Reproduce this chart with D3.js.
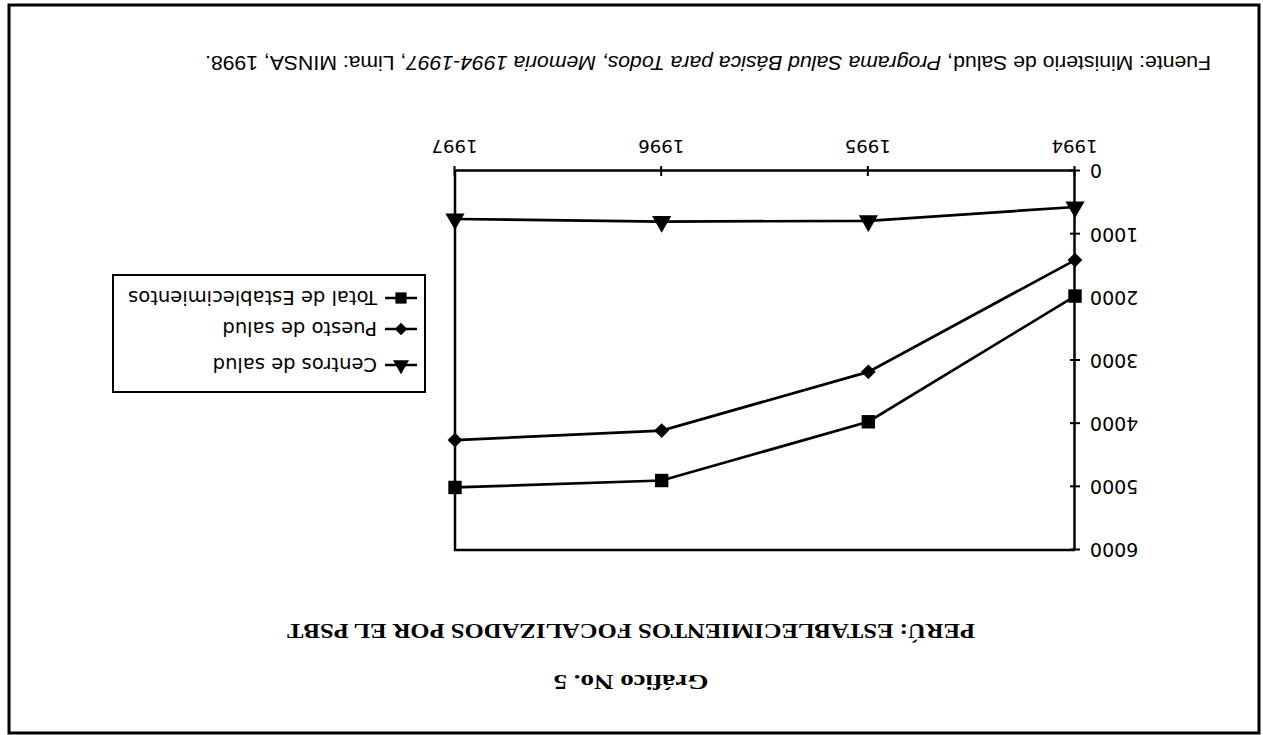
<!DOCTYPE html>
<html>
<head>
<meta charset="utf-8">
<script src="https://cdn.jsdelivr.net/npm/d3@7"></script>
<style>
  html, body { margin: 0; padding: 0; background: #fff; }
  svg { display: block; }
</style>
</head>
<body>
<svg id="chart" width="1263" height="735"></svg>
<script>
// ---- data ----
const years = ["1994", "1995", "1996", "1997"];
const centrosSalud = [570, 790, 800, 760];
const puestoSalud = [1410, 3180, 4110, 4260];
const totalEstablecimientos = [1980, 3970, 4900, 5010];
const yTicks = [0, 1000, 2000, 3000, 4000, 5000, 6000];
const seriesNames = ["Centros de salud", "Puesto de salud", "Total de Establecimientos"];
const seriesSymbols = ["triangle", "diamond", "square"];
const subtitleText = "Gráfico No. 5";
const titleText = "PERÚ: ESTABLECIMIENTOS FOCALIZADOS POR EL PSBT";

const W = 1263, H = 735;
const svg = d3.select("#chart");
// The reference page is scanned upside-down: draw upright, then rotate 180°.
const root = svg.append("g").attr("transform", `rotate(180 ${W/2} ${H/2})`);

// outer frame
root.append("rect").attr("x", 4).attr("y", 2).attr("width", 1250).attr("height", 728)
  .attr("fill", "none").attr("stroke", "#000").attr("stroke-width", 3);

// titles
root.append("text").attr("x", 632).attr("y", 60).attr("text-anchor", "middle")
  .attr("font-family", "Liberation Serif, serif").attr("font-weight", "bold")
  .attr("font-size", 20).attr("textLength", 155).attr("lengthAdjust", "spacingAndGlyphs")
  .text(subtitleText);
root.append("text").attr("x", 632).attr("y", 111).attr("text-anchor", "middle")
  .attr("font-family", "Liberation Serif, serif").attr("font-weight", "bold")
  .attr("font-size", 20).attr("textLength", 688).attr("lengthAdjust", "spacingAndGlyphs")
  .text(titleText);

// scales
const x = d3.scalePoint().domain(years).range([188, 808]);
const y = d3.scaleLinear().domain([0, 6000]).range([564, 185]);

const plot = root.append("g");
// plot frame (top and right)
plot.append("path")
  .attr("d", `M${x.range()[0]},${y(6000)}H${x.range()[1]}V${y(0)}`)
  .attr("fill", "none").attr("stroke", "#000").attr("stroke-width", 2.5);

// y axis
const yAxis = plot.append("g").attr("transform", `translate(${x.range()[0]},0)`)
  .call(d3.axisLeft(y).tickValues(yTicks).tickFormat(d3.format("d")).tickSize(5).tickSizeOuter(0).tickPadding(10));
yAxis.select(".domain").attr("stroke-width", 2.5);
yAxis.selectAll(".tick line").attr("x1", 5).attr("stroke-width", 2);
yAxis.selectAll(".tick text").attr("font-family", "DejaVu Sans, sans-serif").attr("font-size", 19).attr("fill", "#000");

// x axis
const xAxis = plot.append("g").attr("transform", `translate(0,${y(0)})`)
  .call(d3.axisBottom(x).tickSize(5).tickSizeOuter(0).tickPadding(13));
xAxis.select(".domain").attr("stroke-width", 2.5);
xAxis.selectAll(".tick line").attr("y1", -5).attr("stroke-width", 2);
xAxis.selectAll(".tick text").attr("font-family", "DejaVu Sans, sans-serif").attr("font-size", 18).attr("fill", "#000")
  .attr("textLength", 46).attr("lengthAdjust", "spacingAndGlyphs");

// series
const series = [centrosSalud, puestoSalud, totalEstablecimientos];
const symType = { triangle: d3.symbolTriangle, diamond: d3.symbolSquare, square: d3.symbolSquare };
const symRot = { triangle: 0, diamond: 45, square: 0 };
const symSize = { triangle: 160, diamond: 110, square: 180 };
const line = d3.line().x((d, i) => x(years[i])).y(d => y(d));

series.forEach((vals, s) => {
  const k = seriesSymbols[s];
  plot.append("path").datum(vals).attr("d", line)
    .attr("fill", "none").attr("stroke", "#000").attr("stroke-width", 2.7);
  plot.selectAll(null).data(vals).enter().append("path")
    .attr("transform", (d, i) => `translate(${x(years[i])},${y(d)}) rotate(${symRot[k]})`)
    .attr("d", d3.symbol().type(symType[k]).size(symSize[k]))
    .attr("fill", "#000");
});

// legend
const lg = root.append("g");
lg.append("rect").attr("x", 838).attr("y", 343).attr("width", 312).attr("height", 117)
  .attr("fill", "none").attr("stroke", "#000").attr("stroke-width", 2);
const legY = [370, 406, 437];
seriesNames.forEach((name, s) => {
  const ly = legY[s];
  const k = seriesSymbols[s];
  lg.append("line").attr("x1", 846).attr("x2", 878).attr("y1", ly).attr("y2", ly)
    .attr("stroke", "#000").attr("stroke-width", 2.5);
  lg.append("path").attr("transform", `translate(862,${ly}) rotate(${symRot[k]})`)
    .attr("d", d3.symbol().type(symType[k]).size(symSize[k] * 0.7))
    .attr("fill", "#000");
  lg.append("text").attr("x", 886).attr("y", ly + 7)
    .attr("font-family", "DejaVu Sans, sans-serif").attr("font-size", 19.5)
    .text(name);
});

// source
const src = root.append("text").attr("x", 52).attr("y", 679)
  .attr("font-family", "Liberation Sans, Arial, sans-serif").attr("font-size", 21)
  .attr("textLength", 1006).attr("lengthAdjust", "spacingAndGlyphs");
src.append("tspan").text("Fuente: Ministerio de Salud, ");
src.append("tspan").attr("font-style", "italic").text("Programa Salud Básica para Todos, Memoria 1994-1997");
src.append("tspan").text(", Lima: MINSA, 1998.");
</script>
</body>
</html>
